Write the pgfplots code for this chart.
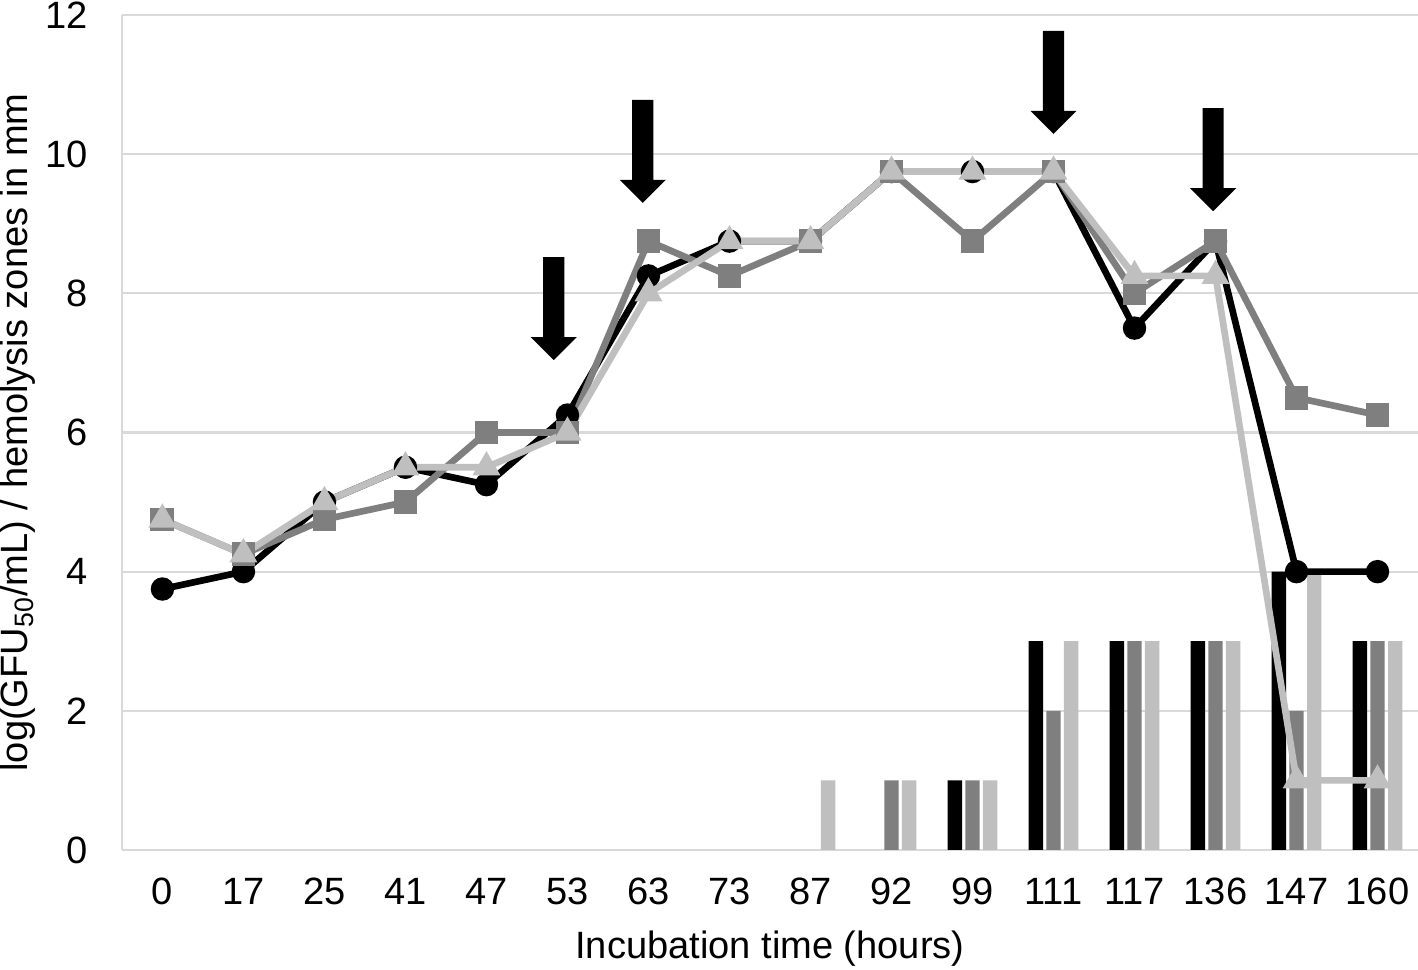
\documentclass[border=0pt]{standalone}
\usepackage{fontspec}
\setmainfont{Liberation Sans}
\usepackage{pgfplots}
\pgfplotsset{compat=1.18}
\usepackage{pgfplotstable}
\usetikzlibrary{calc}
\definecolor{cgray}{HTML}{7F7F7F}
\definecolor{clight}{HTML}{BFBFBF}
\definecolor{gridc}{HTML}{D9D9D9}

% line data: x = category index, lc/lg/ll = black/gray/light series
\pgfplotstableread{
x lc lg ll
0 3.75 4.75 4.75
1 4.0 4.25 4.25
2 5.0 4.75 5.0
3 5.5 5.0 5.5
4 5.25 6.0 5.5
5 6.25 6.0 6.0
6 8.25 8.75 8.0
7 8.75 8.25 8.75
8 8.75 8.75 8.75
9 9.75 9.75 9.75
10 9.75 8.75 9.75
11 9.75 9.75 9.75
12 7.5 8.0 8.25
13 8.75 8.75 8.25
14 4.0 6.5 1.0
15 4.0 6.25 1.0
}\lines

% hemolysis zones (bars), nan = no bar
\pgfplotstableread{
x b g l
8 nan nan 1
9 nan 1 1
10 1 1 1
11 3 2 3
12 3 3 3
13 3 3 3
14 4 2 4
15 3 3 3
}\bars

\newcommand{\bigarrow}[2]{\fill[black] (axis cs:#1,#2) -- ++(-8.3pt,8.3pt) -- ++(4.5pt,0pt) -- ++(0pt,28.8pt) -- ++(7.6pt,0pt) -- ++(0pt,-28.8pt) -- ++(4.5pt,0pt) -- cycle;}

\begin{document}
\fontsize{13.7}{16}\selectfont
\begin{tikzpicture}
\begin{axis}[
    name=ax,
    scale only axis,
    width=466.6pt, height=300.6pt,
    xmin=-0.5, xmax=15.5, ymin=0, ymax=12,
    xtick={0,...,15},
    xticklabels={0,17,25,41,47,53,63,73,87,92,99,111,117,136,147,160},
    ytick={0,2,...,12},
    ymajorgrids,
    grid style={draw=gridc, line width=0.75pt},
    axis x line*=bottom, axis y line*=left,
    axis line style={draw=gridc, line width=0.75pt, -},
    major tick length=0pt,
    xticklabel style={anchor=north, inner sep=0pt, yshift=-10pt},
    yticklabel style={anchor=east, inner sep=0pt, xshift=-12.2pt},
    /pgf/number format/assume math mode=true,
    xlabel={Incubation time (hours)},
    xlabel style={at={(axis description cs:0.5,0)}, anchor=base, yshift=-38.9pt},
    ylabel={log(GFU\textsubscript{50}/mL) / hemolysis zones in mm},
    ylabel style={at={(axis description cs:-0.0725,0.5)}, anchor=base},
    clip=false,
]
\addplot[ybar, bar width=0.177, bar shift=-0.218, fill=black, draw=none] table[x=x,y=b]{\bars};
\addplot[ybar, bar width=0.177, bar shift=0, fill=cgray, draw=none] table[x=x,y=g]{\bars};
\addplot[ybar, bar width=0.177, bar shift=0.218, fill=clight, draw=none] table[x=x,y=l]{\bars};

\addplot[black, line width=2.4pt, mark=*, mark size=3pt, mark options={solid}] table[x=x,y=lc]{\lines};
\addplot[cgray, line width=2.4pt, mark=square*, mark size=3.1pt, mark options={solid}] table[x=x,y=lg]{\lines};
\addplot[clight, line width=2.4pt, mark=triangle*, mark size=3.4pt, mark options={solid}] table[x=x,y=ll]{\lines};

\bigarrow{4.83}{7.04}
\bigarrow{5.93}{9.30}
\bigarrow{11.0}{10.29}
\bigarrow{12.97}{9.18}
\end{axis}
\pgfresetboundingbox
\path[use as bounding box] ($(ax.south west)+(-43.9pt,-43.2pt)$) rectangle ($(ax.north east)+(0pt,5.4pt)$);
\end{tikzpicture}
\end{document}
